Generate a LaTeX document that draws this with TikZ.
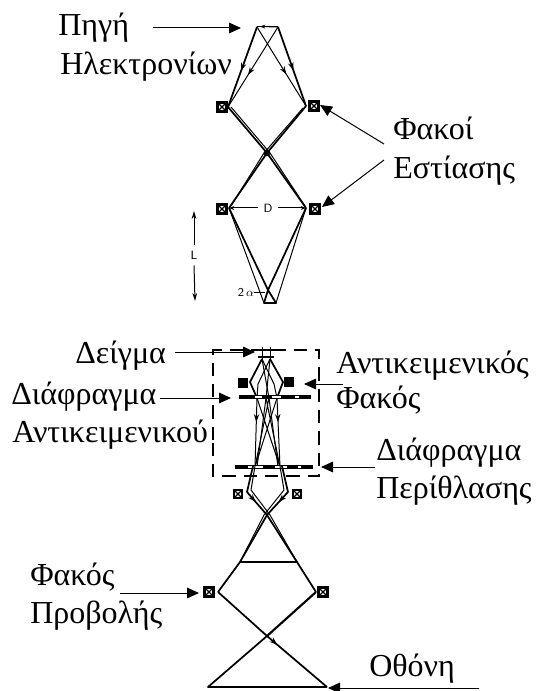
\documentclass[tikz,border=0pt]{standalone}
\usepackage{fontspec}
\setmainfont{Liberation Serif}
\usetikzlibrary{arrows.meta,decorations.markings,calc}
\tikzset{
 x=0.75pt,y=-0.75pt,
 lbl/.style={font=\fontsize{24}{26}\selectfont,inner sep=0pt,anchor=base west,text=black},
 call/.style={draw=black,line width=0.75pt,-{Triangle[length=9pt,width=8pt]}},
 ray/.style={draw=black,line width=1.3pt,line join=round},
 thinray/.style={draw=black,line width=0.75pt,line join=round},
 midtip/.style={postaction={decorate},decoration={markings,mark=at position #1 with {\arrow{Stealth[length=6pt,width=4pt]}}}},
 lensbox/.style={draw=black,fill=white,line width=1.8pt,minimum size=7pt,inner sep=0pt,
   path picture={\draw[black,line width=1pt] (path picture bounding box.north west)--(path picture bounding box.south east) (path picture bounding box.north east)--(path picture bounding box.south west);}},
 darklens/.style={draw=black,fill=black,line width=1pt,minimum size=6.5pt,inner sep=0pt},
 sym/.style={font=\fontsize{9}{10}\sffamily,inner sep=0pt,fill=white},
 plate/.style={draw=black,line width=3.2pt},
 dashbox/.style={draw=black,line width=0.8pt,dash pattern=on 10pt off 6pt},
}
\begin{document}
\begin{tikzpicture}
\useasboundingbox (0,0) rectangle (536,691);
% upper column points
\coordinate (sa) at (257,27); \coordinate (sb) at (278,27);
\coordinate (l1) at (228,107); \coordinate (r1) at (306,106);
\coordinate (x1) at (267,153);
\coordinate (l2) at (229,208); \coordinate (r2) at (306,208);
\coordinate (x2) at (268,290);
\coordinate (bl) at (264,303); \coordinate (br) at (276,303);
% lenses
\node[lensbox] (L1) at (222,107) {};
\node[lensbox] (R1) at (314,106) {};
\node[lensbox] (L2) at (222,209) {};
\node[lensbox] (R2) at (315,209) {};
% upper rays
\draw[thinray,-{Stealth[length=4pt,width=3pt]}] (sb)--(260,26.5);
\draw[thinray] (sa)--(sb);
\draw[ray,midtip=0.55] (sa)--(l1);
\draw[ray,midtip=0.55] (sb)--(r1);
\draw[thinray,midtip=0.6] (sb)--(l1);
\draw[thinray,midtip=0.6] (sa)--(r1);
\draw[ray] (l1)--(x1)--(r2);
\draw[ray] (r1)--(x1)--(l2);
\draw[thinray] ($(l1)+(3,0)$)--(270,153)--(305,206);
\draw[thinray] ($(r1)+(-3,2)$)--(264,153)--(231,206);
\fill (x1) circle (2.5pt);
\draw[ray] (l2)--(x2)--(br)--(bl)--(x2)--(r2);
\draw[thinray] (l2)--(bl);
\draw[thinray] (r2)--(br);
% D, L, 2 alpha
\node[sym] (D) at (268,208) {D};
\draw[thinray,-{Stealth[length=4pt,width=3pt]}] (D.west)++(-5,0)--(l2);
\draw[thinray,-{Stealth[length=4pt,width=3pt]}] (D.east)++(5,0)--(r2);
\node[sym] (Ln) at (194,255) {L};
\draw[thinray,-{Stealth[length=6pt,width=3.5pt]}] (Ln.north)++(0,-6)--(194,211);
\draw[thinray,-{Stealth[length=6pt,width=3.5pt]}] (Ln.south)++(0,6)--(195,301);
\node[sym] (al) at (246,292) {2\,$\alpha$};
\coordinate (alx) at (265,292);
\draw[thinray] (al.east)--(alx);
% lower column
\draw[dashbox] (213,440)--(213,350)--(319,350)--(319,476)--(213,476)--(213,440);
\node[darklens] (OL) at (243,383) {};
\node[darklens] (OR) at (289,382) {};
\coordinate (a1l) at (239,397); \coordinate (a1r) at (311,397);
\coordinate (a2l) at (235,467); \coordinate (a2r) at (313,467);
% specimen
\coordinate (sp1) at (262,359); \coordinate (sp2) at (270,359);
\draw[thinray] (262,347)--(262,359) (270,347)--(270,359);
\draw[ray] (258,350)--(274,350);
\draw[line width=2pt] (258,357)--(274,357);
\coordinate (t1a) at (257,398); \coordinate (t1b) at (266,398);
\coordinate (t1c) at (269,398); \coordinate (t1d) at (277,398);
\draw[ray] (sp1)--(250,382)--(t1a);
\draw[ray] (sp2)--(283,382)--(t1d);
\draw[thinray] (sp2)--(258,384)--(t1a);
\draw[thinray] (sp1)--(274,384)--(t1d);
\draw[thinray] (sp1)--(t1c);
\draw[thinray] (sp2)--(t1b);
% ray bundle between the apertures
\coordinate (t2a) at (255,467); \coordinate (t2b) at (280,467);
\draw[thinray,midtip=0.35] (t1a)--(t2a);
\draw[thinray,midtip=0.35] (t1d)--(t2b);
\draw[thinray] (t1a)--(t2b) (t1d)--(t2a) (t1b)--(t2b) (t1c)--(t2a);
\draw[thinray] (t1b)--(257,467) (t1c)--(278,467);
\draw[plate] (a1l)--(a1r);
\draw[plate] (a2l)--(a2r);
\draw[white,line width=1.2pt] (255,397)--(262,397) (272,397)--(281,397) (295,397)--(299,397);
\draw[white,line width=1.2pt] (248,467)--(263,467) (275,467)--(287,467) (298,467)--(301,467);
\node[lensbox,line width=1.8pt,minimum size=6pt] (PL) at (238,494) {};
\node[lensbox,line width=1.8pt,minimum size=6pt] (PR) at (297,494) {};
% intermediate
\coordinate (x3) at (267,515);
\draw[ray,midtip=0.7] (253,466)--(247,492)--(x3);
\draw[ray,midtip=0.7] (282,466)--(288,492)--(x3);
\draw[thinray] (255,466)--(251,490)--(270,515);
\draw[thinray] (280,466)--(284,490)--(264,515);
% projector
\coordinate (pl) at (218,592); \coordinate (pr) at (316,592);
\coordinate (cl) at (240,562); \coordinate (cr) at (297,562);
\coordinate (x4) at (267,636);
\coordinate (scl) at (208,687); \coordinate (scr) at (327,687);
\draw[ray] (x3)--(cl)--(pl);
\draw[thinray] (264,515)--(cl);
\draw[ray] (x3)--(cr)--(pr);
\draw[thinray] (270,515)--(cr);
\draw[ray] (cl)--(cr);
\draw[ray,midtip=0.55] (pl)--(x4)--(scr);
\draw[ray,line width=1.6pt] (pr)--(x4);
\draw[ray] (x4)--(scl)--(scr);
\node[lensbox] (PJL) at (209,592) {};
\node[lensbox] (PJR) at (323,592) {};
% labels
\node[lbl] (t1) at (58,36) {Πηγή};
\node[lbl] (t2) at (60,75) {Ηλεκτρονίων};
\node[lbl] (t3) at (393,140) {Φακοί};
\node[lbl] (t4) at (393,179) {Εστίασης};
\node[lbl] (t5) at (75,363) {Δείγμα};
\node[lbl] (t6) at (336,373) {Αντικειμενικός};
\node[lbl] (t7) at (336,408) {Φακός};
\node[lbl] (t8) at (11,404) {Διάφραγμα};
\node[lbl] (t9) at (12,442) {Αντικειμενικού};
\node[lbl] (t10) at (376,460) {Διάφραγμα};
\node[lbl] (t11) at (376,498) {Περίθλασης};
\node[lbl] (t12) at (30,585) {Φακός};
\node[lbl] (t13) at (30,623) {Προβολής};
\node[lbl] (t14) at (369,676) {Οθόνη};
% callouts
\coordinate (c1) at (153,28); \coordinate (c1e) at (241,28);
\draw[call] (c1)--(c1e);
\coordinate (c2a) at (384,144); \coordinate (c2b) at (384,160);
\coordinate (c2t) at (320,105); \coordinate (c2u) at (322,207);
\draw[call] (c2a)--(c2t);
\draw[call] (c2b)--(c2u);
\coordinate (c3) at (175,352); \coordinate (c3e) at (255,352);
\draw[call] (c3)--(c3e);
\coordinate (c4) at (343,384); \coordinate (c4e) at (304,384);
\draw[call] (c4)--(c4e);
\coordinate (c5) at (160,398); \coordinate (c5e) at (231,398);
\draw[call] (c5)--(c5e);
\coordinate (c6) at (375,467); \coordinate (c6e) at (321,467);
\draw[call] (c6)--(c6e);
\coordinate (c7) at (120,593); \coordinate (c7e) at (199,593);
\draw[call] (c7)--(c7e);
\coordinate (c8) at (479,688); \coordinate (c8e) at (328,688);
\draw[call] (c8)--(c8e);
\end{tikzpicture}
\end{document}
